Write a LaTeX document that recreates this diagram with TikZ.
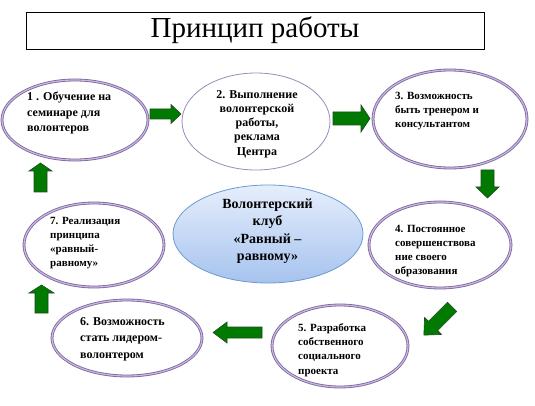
\documentclass[tikz,border=0pt]{standalone}
\usepackage{fontspec}
\setmainfont{Liberation Serif}
\usetikzlibrary{shapes.geometric}
\definecolor{purpD}{HTML}{7B62A3}
\definecolor{purpL}{HTML}{C8BADB}
\definecolor{purpT}{HTML}{9A8CB8}
\definecolor{grn}{HTML}{007A00}
\definecolor{grnD}{HTML}{1F4A1F}
\definecolor{blueT}{HTML}{E6EEFC}
\definecolor{blueB}{HTML}{A6C3EE}
\definecolor{blueD}{HTML}{6D9AD0}
\newcommand\grarrow[7]{%
  \draw[garrow,shift={(#1,#2)},rotate=#3]
    ({-#4/2},{-#5/2}) -- ({#4/2-#7},{-#5/2}) -- ({#4/2-#7},{-#6/2}) --
    ({#4/2},0) -- ({#4/2-#7},{#6/2}) -- ({#4/2-#7},{#5/2}) --
    ({-#4/2},{#5/2}) -- cycle;}
\tikzset{
  oval/.style={ellipse,draw=purpD,line width=0.8pt,double=purpL,double distance=1.2pt,fill=white,inner sep=0pt},
  ovalthin/.style={ellipse,draw=purpT,line width=0.8pt,fill=white,inner sep=0pt},
  garrow/.style={fill=grn,draw=grnD,line width=0.6pt,line join=miter},
  txt/.style={inner sep=0pt,align=left,anchor=west},
}
\begin{document}
\begin{tikzpicture}[x=1pt,y=1pt]
\useasboundingbox (0,0) rectangle (535,-406);
% title
\node[draw=black,line width=0.8pt,minimum width=458,minimum height=37,inner sep=0pt,
      font=\fontsize{29}{32}\selectfont] (title) at (255,-30.5) {Принцип работы};
% ellipses
\node[oval,minimum width=146,minimum height=80] (e1) at (75,-120) {};
\node[ovalthin,minimum width=148,minimum height=97] (e2) at (256,-121.5) {};
\node[oval,minimum width=154,minimum height=98] (e3) at (450,-119) {};
\node[oval,minimum width=142,minimum height=86] (e4) at (440,-245) {};
\node[oval,minimum width=136,minimum height=82] (e5) at (340,-346) {};
\node[oval,minimum width=150,minimum height=76] (e6) at (127,-338) {};
\node[oval,minimum width=140,minimum height=84] (e7) at (94,-245) {};
\node[ellipse,draw=blueD,line width=0.8pt,top color=blueT,bottom color=blueB,
      minimum width=190,minimum height=98,inner sep=0pt] (c) at (268,-234) {};
% texts
\node[txt,font=\bfseries\fontsize{12}{15.5}\selectfont] (t1) at (27,-113) {1 . Обучение на\\семинаре для\\волонтеров};
\node[txt,align=center,anchor=center,font=\bfseries\fontsize{12}{14.3}\selectfont] (t2) at (257,-124) {2. Выполнение\\волонтерской\\работы,\\реклама\\Центра};
\node[txt,font=\bfseries\fontsize{11}{14}\selectfont] (t3) at (395,-111) {3. Возможность\\быть тренером и\\консультантом};
\node[txt,font=\bfseries\fontsize{11}{14}\selectfont] (t4) at (395,-251) {4. Постоянное\\совершенствова\\ние своего\\образования};
\node[txt,font=\bfseries\fontsize{11}{14.3}\selectfont] (t5) at (298,-350) {5. Разработка\\собственного\\социального\\проекта};
\node[txt,font=\bfseries\fontsize{12}{16.5}\selectfont] (t6) at (80,-339) {6. Возможность\\стать лидером-\\волонтером};
\node[txt,font=\bfseries\fontsize{11}{14}\selectfont] (t7) at (50,-243) {7. Реализация\\принципа\\«равный-\\равному»};
\node[inner sep=0pt,align=center,font=\bfseries\fontsize{14}{17.5}\selectfont] (tc) at (267.5,-231) {Волонтерский\\клуб\\«Равный –\\равному»};
% arrows
\grarrow{165.5}{-114}{0}{31}{10}{19}{10}
\grarrow{351.5}{-118.5}{0}{37}{13}{27}{9}
\grarrow{487.5}{-184}{-90}{28}{13}{23}{11}
\grarrow{438}{-321}{225}{40}{13}{24}{13}
\grarrow{237.5}{-332.5}{180}{49}{11}{21}{14}
\grarrow{41.5}{-299}{90}{28}{13}{25}{8}
\grarrow{40.5}{-177.5}{90}{29}{13}{23}{8}
\end{tikzpicture}
\end{document}
